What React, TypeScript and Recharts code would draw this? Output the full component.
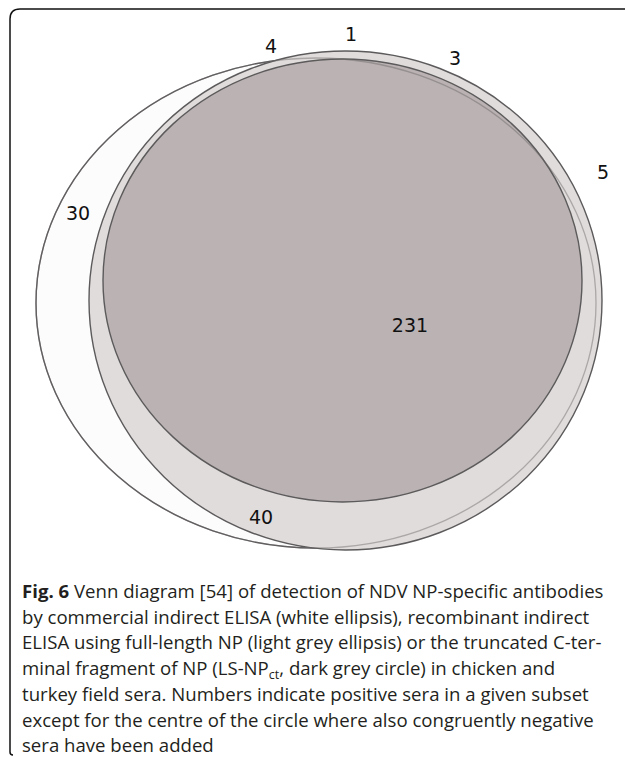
import React from 'react';
import { ScatterChart, Scatter, XAxis, YAxis } from 'recharts';

// ---- data ----
const setNames = ['Commercial indirect ELISA', 'Recombinant NP ELISA', 'LS-NPct ELISA'];
const centerX = [316, 345.5, 342.5];
const centerY = [303, 300.5, 280.5];
const radiusX = [280, 256.5, 239.5];
const radiusY = [245, 249.5, 221.5];

const regionCounts = ['1', '4', '3', '5', '30', '231', '40'];
const labelX = [351, 271, 455, 603, 78, 410, 261];
const labelY = [34, 46, 58, 172, 213, 325, 517];

const captionLines = [
  'by commercial indirect ELISA (white ellipsis), recombinant indirect',
  'ELISA using full-length NP (light grey ellipsis) or the truncated C-ter-',
  '__SUB__',
  'turkey field sera. Numbers indicate positive sera in a given subset',
  'except for the centre of the circle where also congruently negative',
  'sera have been added',
];

// ---- layout ----
const W = 625;
const H = 757;
const X_DOMAIN: [number, number] = [0, 625];
const Y_DOMAIN: [number, number] = [0, 757];
const KX = W / (X_DOMAIN[1] - X_DOMAIN[0]);
const KY = H / (Y_DOMAIN[1] - Y_DOMAIN[0]);

const fills = ['#fcfcfc', '#e0dcdc', '#bab2b3'];

const ellipseData = setNames.map((name, i) => ({
  name,
  x: centerX[i],
  y: centerY[i],
  rx: radiusX[i],
  ry: radiusY[i],
  fill: fills[i],
}));

const labelData = regionCounts.map((t, i) => ({ t, x: labelX[i], y: labelY[i] }));

const EllipseShape = (props: any) => {
  const { cx, cy, payload } = props;
  return (
    <ellipse
      cx={cx}
      cy={cy}
      rx={payload.rx * KX}
      ry={payload.ry * KY}
      fill={payload.fill}
      stroke="#5c5a5b"
      strokeWidth={1.4}
    />
  );
};

const OutlineShape = (props: any) => {
  const { cx, cy, payload } = props;
  return (
    <ellipse
      cx={cx}
      cy={cy}
      rx={payload.rx * KX}
      ry={payload.ry * KY}
      fill="none"
      stroke="#6a6667"
      strokeOpacity={0.45}
      strokeWidth={1.3}
    />
  );
};

const LabelShape = (props: any) => {
  const { cx, cy, payload } = props;
  return (
    <text
      x={cx}
      y={cy}
      textAnchor="middle"
      dominantBaseline="central"
      fontFamily="DejaVu Sans"
      fontSize={19}
      fill="#111"
    >
      {payload.t}
    </text>
  );
};

const captionFont = '"Open Sans", "Noto Sans", sans-serif';
const CAP_X = 22;
const CAP_Y0 = 598;
const CAP_STEP = 25.7;

export default function App() {
  return (
    <div style={{ position: 'absolute', left: 0, top: 0, width: W, height: H, background: '#fff' }}>
      <ScatterChart width={W} height={H} margin={{ top: 0, right: 0, bottom: 0, left: 0 }}>
        <XAxis type="number" dataKey="x" domain={X_DOMAIN} hide />
        <YAxis type="number" dataKey="y" domain={Y_DOMAIN} reversed hide />
        <Scatter data={ellipseData} shape={EllipseShape} isAnimationActive={false} />
        <Scatter data={ellipseData.slice(0, 1)} shape={OutlineShape} isAnimationActive={false} />
        <Scatter data={labelData} shape={LabelShape} isAnimationActive={false} />
      </ScatterChart>
      <svg
        width={W}
        height={H}
        style={{ position: 'absolute', left: 0, top: 0, pointerEvents: 'none' }}
      >
        <path
          d="M 10 752 Q 10 755 13 755 M 10 752 L 10 19 Q 10 9 20 9 L 625 9"
          fill="none"
          stroke="#111"
          strokeWidth={1.5}
        />
        <g fontFamily={captionFont} fontSize={18.6} fill="#231f20">
          <text x={CAP_X} y={CAP_Y0}>
            <tspan fontWeight="bold">Fig. 6</tspan>
            <tspan> Venn diagram [54] of detection of NDV NP-specific antibodies</tspan>
          </text>
          {captionLines.map((line, i) =>
            line === '__SUB__' ? (
              <text key={i} x={CAP_X} y={CAP_Y0 + (i + 1) * CAP_STEP}>
                minal fragment of NP (LS-NP
                <tspan fontSize={12.5} dy={4}>ct</tspan>
                <tspan dy={-4}>, dark grey circle) in chicken and</tspan>
              </text>
            ) : (
              <text key={i} x={CAP_X} y={CAP_Y0 + (i + 1) * CAP_STEP}>
                {line}
              </text>
            )
          )}
        </g>
      </svg>
    </div>
  );
}
